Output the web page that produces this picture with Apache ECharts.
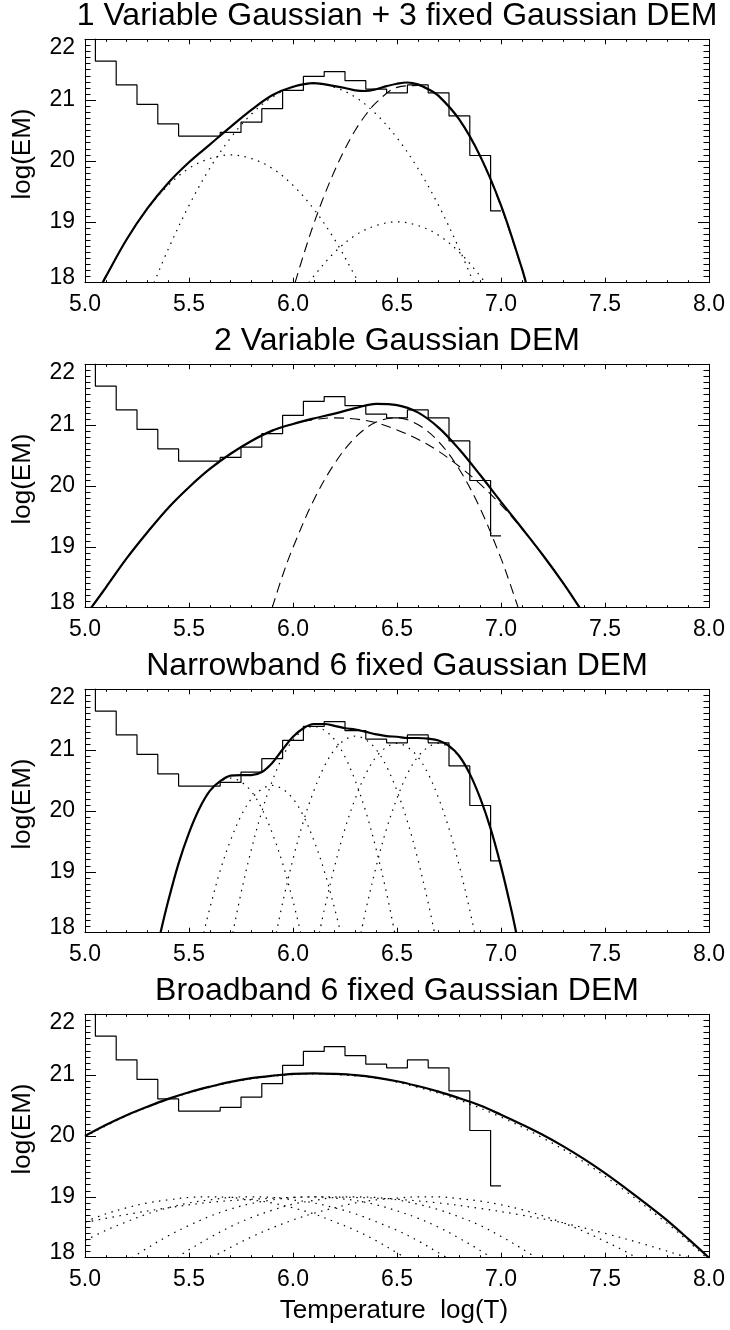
<!DOCTYPE html>
<html>
<head>
<meta charset="utf-8">
<script src="https://cdn.jsdelivr.net/npm/echarts@6/dist/echarts.min.js"></script>
<style>
html,body{margin:0;padding:0;background:#ffffff;}
#chart{width:730px;height:1330px;}
</style>
</head>
<body>
<div id="chart"></div>
<script>
// ---------------- DATA ----------------
const PANEL_TITLES = [
  "1 Variable Gaussian + 3 fixed Gaussian DEM",
  "2 Variable Gaussian DEM",
  "Narrowband 6 fixed Gaussian DEM",
  "Broadband 6 fixed Gaussian DEM"
];
const Y_NAME = "log(EM)";
const X_NAME = "Temperature  log(T)";
const X_TICKS = [5.0, 5.5, 6.0, 6.5, 7.0, 7.5, 8.0];
const Y_TICKS = [18, 19, 20, 21, 22];

// observed EM loci histogram (same in all panels)
const TEMP_BINS   = [5.0,5.1,5.2,5.3,5.4,5.5,5.6,5.7,5.8,5.9,6.0,6.1,6.2,6.3,6.4,6.5,6.6,6.7,6.8,6.9,7.0];
const EM_OBSERVED = [22.5,21.64,21.25,20.93,20.61,20.41,20.41,20.47,20.64,20.86,21.16,21.39,21.47,21.32,21.18,21.12,21.25,21.12,20.74,20.09,19.18];

// Panel 1
const p1Total = [[5.085,18.0],[5.1,18.10],[5.2,18.71],[5.3,19.22],[5.4,19.64],[5.5,19.98],[5.6,20.27],[5.7,20.56],[5.8,20.84],[5.9,21.08],[6.0,21.22],[6.1,21.28],[6.2,21.23],[6.25,21.20],[6.3,21.16],[6.35,21.15],[6.4,21.18],[6.45,21.23],[6.5,21.27],[6.55,21.29],[6.6,21.26],[6.65,21.18],[6.7,21.07],[6.8,20.68],[6.9,20.08],[7.0,19.27],[7.1,18.24],[7.12,18.0]];
const p1FixedA = [[5.085,18.0],[5.1,18.10],[5.2,18.71],[5.3,19.21],[5.4,19.60],[5.5,19.88],[5.6,20.04],[5.7,20.10],[5.8,20.04],[5.9,19.88],[6.0,19.60],[6.1,19.21],[6.2,18.71],[6.3,18.10],[6.315,18.0]];
const p1FixedB = [[5.332,18.0],[5.4,18.55],[5.5,19.27],[5.6,19.88],[5.7,20.38],[5.8,20.77],[5.9,21.05],[6.0,21.21],[6.1,21.27],[6.2,21.21],[6.3,21.05],[6.4,20.77],[6.5,20.38],[6.6,19.88],[6.7,19.27],[6.8,18.55],[6.868,18.0]];
const p1FixedC = [[6.076,18.0],[6.1,18.11],[6.2,18.50],[6.3,18.78],[6.4,18.94],[6.5,19.0],[6.6,18.94],[6.7,18.78],[6.8,18.50],[6.9,18.11],[6.924,18.0]];
const p1Variable = [[6.01,18.0],[6.05,18.45],[6.1,18.97],[6.15,19.43],[6.2,19.84],[6.25,20.20],[6.3,20.51],[6.35,20.76],[6.4,20.96],[6.5,21.21],[6.6,21.24],[6.7,21.06],[6.8,20.67],[6.9,20.07],[7.0,19.25],[7.1,18.23],[7.12,18.0]];

// Panel 2
const p2Total = [[5.03,18.0],[5.1,18.33],[5.2,18.81],[5.3,19.24],[5.4,19.64],[5.5,19.98],[5.6,20.28],[5.7,20.53],[5.8,20.74],[5.9,20.91],[6.0,21.02],[6.1,21.11],[6.2,21.19],[6.3,21.28],[6.4,21.35],[6.5,21.33],[6.6,21.21],[6.7,20.96],[6.8,20.60],[6.9,20.18],[7.0,19.74],[7.1,19.31],[7.2,18.87],[7.3,18.40],[7.378,18.0]];
const p2VarBroad = [[5.03,18.0],[5.1,18.33],[5.2,18.81],[5.3,19.24],[5.4,19.64],[5.5,19.98],[5.6,20.28],[5.7,20.53],[5.8,20.74],[5.9,20.91],[6.0,21.02],[6.1,21.09],[6.2,21.12],[6.3,21.10],[6.4,21.04],[6.5,20.92],[6.6,20.77],[6.7,20.57],[6.8,20.32],[6.9,20.03],[7.0,19.69],[7.1,19.30],[7.2,18.87],[7.3,18.40],[7.378,18.0]];
const p2VarNarrow = [[5.90,18.0],[5.95,18.53],[6.0,18.99],[6.1,19.77],[6.2,20.37],[6.3,20.80],[6.4,21.05],[6.5,21.12],[6.6,21.01],[6.7,20.73],[6.8,20.27],[6.9,19.63],[7.0,18.81],[7.05,18.33],[7.0825,18.0]];

// Panel 3
const p3Total = [[5.363,18.0],[5.4,18.52],[5.45,19.14],[5.5,19.64],[5.55,20.04],[5.6,20.33],[5.65,20.49],[5.7,20.58],[5.75,20.59],[5.8,20.59],[5.85,20.64],[5.9,20.79],[5.95,21.01],[6.0,21.22],[6.05,21.36],[6.1,21.43],[6.15,21.43],[6.2,21.40],[6.25,21.36],[6.3,21.34],[6.35,21.30],[6.4,21.26],[6.45,21.23],[6.5,21.22],[6.55,21.20],[6.6,21.20],[6.65,21.19],[6.7,21.16],[6.75,21.07],[6.8,20.90],[6.85,20.61],[6.9,20.21],[6.95,19.71],[7.0,19.09],[7.05,18.37],[7.073,18.0]];
const p3G1 = [[5.363,18.0],[5.4,18.52],[5.45,19.14],[5.5,19.64],[5.55,20.04],[5.6,20.32],[5.65,20.48],[5.7,20.54],[5.75,20.48],[5.8,20.32],[5.85,20.04],[5.9,19.64],[5.95,19.14],[6.0,18.52],[6.037,18.0]];
const p3G2 = [[5.571,18.0],[5.6,18.40],[5.65,19.02],[5.7,19.52],[5.75,19.92],[5.8,20.20],[5.85,20.36],[5.9,20.42],[5.95,20.36],[6.0,20.20],[6.05,19.92],[6.1,19.52],[6.15,19.02],[6.2,18.40],[6.229,18.0]];
const p3G3 = [[5.711,18.0],[5.75,18.65],[5.8,19.37],[5.85,19.99],[5.9,20.49],[5.95,20.89],[6.0,21.17],[6.05,21.33],[6.1,21.39],[6.15,21.33],[6.2,21.17],[6.25,20.89],[6.3,20.49],[6.35,19.99],[6.4,19.37],[6.45,18.65],[6.489,18.0]];
const p3G4 = [[5.920,18.0],[5.95,18.49],[6.0,19.21],[6.05,19.83],[6.1,20.33],[6.15,20.73],[6.2,21.01],[6.25,21.17],[6.3,21.23],[6.35,21.17],[6.4,21.01],[6.45,20.73],[6.5,20.33],[6.55,19.83],[6.6,19.21],[6.65,18.49],[6.680,18.0]];
const p3G5 = [[6.127,18.0],[6.15,18.37],[6.2,19.09],[6.25,19.71],[6.3,20.21],[6.35,20.61],[6.4,20.89],[6.45,21.05],[6.5,21.11],[6.55,21.05],[6.6,20.89],[6.65,20.61],[6.7,20.21],[6.75,19.71],[6.8,19.09],[6.85,18.37],[6.873,18.0]];
const p3G6 = [[6.327,18.0],[6.35,18.37],[6.4,19.09],[6.45,19.71],[6.5,20.21],[6.55,20.61],[6.6,20.89],[6.65,21.05],[6.7,21.11],[6.75,21.05],[6.8,20.89],[6.85,20.61],[6.9,20.21],[6.95,19.71],[7.0,19.09],[7.05,18.37],[7.073,18.0]];

// Panel 4
const p4Total = [[5.0,20.00],[5.1,20.18],[5.2,20.34],[5.3,20.48],[5.4,20.61],[5.5,20.72],[5.6,20.81],[5.7,20.89],[5.8,20.95],[5.9,20.99],[6.0,21.02],[6.1,21.03],[6.2,21.02],[6.3,21.00],[6.4,20.96],[6.5,20.90],[6.6,20.82],[6.7,20.73],[6.8,20.62],[6.9,20.50],[7.0,20.35],[7.1,20.19],[7.2,20.02],[7.3,19.83],[7.4,19.62],[7.5,19.39],[7.6,19.14],[7.7,18.88],[7.8,18.61],[7.9,18.31],[8.0,18.00]];
const p4Fit = [[5.0,19.99],[5.2,20.33],[5.4,20.60],[5.6,20.80],[5.8,20.94],[6.0,21.01],[6.1,21.02],[6.2,21.01],[6.4,20.95],[6.6,20.80],[6.8,20.59],[7.0,20.31],[7.2,19.97],[7.4,19.57],[7.6,19.09],[7.8,18.56],[7.9,18.27],[8.0,17.96]];
const p4G1 = [[5.0,18.59],[5.1,18.72],[5.2,18.82],[5.3,18.90],[5.4,18.95],[5.5,18.99],[5.6,19.0],[5.7,18.99],[5.8,18.95],[5.9,18.90],[6.0,18.82],[6.1,18.72],[6.2,18.59],[6.3,18.45],[6.4,18.28],[6.5,18.08],[6.54,18.0]];
const p4G2 = [[5.0,18.28],[5.1,18.45],[5.2,18.59],[5.3,18.72],[5.4,18.82],[5.5,18.90],[5.6,18.95],[5.7,18.99],[5.8,19.0],[5.9,18.99],[6.0,18.95],[6.1,18.90],[6.2,18.82],[6.3,18.72],[6.4,18.59],[6.5,18.45],[6.6,18.28],[6.7,18.08],[6.74,18.0]];
const p4G3 = [[5.226,18.0],[5.3,18.16],[5.4,18.36],[5.5,18.53],[5.6,18.68],[5.7,18.80],[5.8,18.89],[5.9,18.95],[6.0,18.99],[6.1,19.0],[6.2,18.98],[6.3,18.94],[6.4,18.87],[6.5,18.77],[6.6,18.65],[6.7,18.50],[6.8,18.32],[6.9,18.12],[6.954,18.0]];
const p4G4 = [[5.441,18.0],[5.5,18.13],[5.6,18.33],[5.7,18.51],[5.8,18.66],[5.9,18.78],[6.0,18.88],[6.1,18.94],[6.2,18.99],[6.3,19.0],[6.4,18.99],[6.5,18.95],[6.6,18.88],[6.7,18.79],[6.8,18.67],[6.9,18.53],[7.0,18.35],[7.1,18.15],[7.169,18.0]];
const p4G5 = [[5.609,18.0],[5.7,18.17],[5.8,18.34],[5.9,18.49],[6.0,18.62],[6.1,18.73],[6.2,18.82],[6.3,18.90],[6.4,18.95],[6.5,18.98],[6.6,19.0],[6.7,19.0],[6.8,18.97],[6.9,18.93],[7.0,18.87],[7.1,18.79],[7.2,18.69],[7.3,18.57],[7.4,18.43],[7.5,18.27],[7.6,18.10],[7.651,18.0]];
const p4G6 = [[5.0,18.58],[5.2,18.71],[5.4,18.82],[5.6,18.91],[5.8,18.96],[6.0,18.99],[6.14,19.0],[6.3,18.99],[6.5,18.96],[6.7,18.90],[6.9,18.81],[7.1,18.70],[7.3,18.57],[7.5,18.40],[7.7,18.21],[7.9,18.00]];

// ---------------- LAYOUT / STYLE ----------------
const FONT = "'Liberation Sans', Arial, Helvetica, sans-serif";
const GRID_LEFT = 85, GRID_WIDTH = 624, GRID_HEIGHT = 243.4;
const GRID_TOPS = [39.3, 364.3, 689.3, 1014.3];

const solidStyle  = {color:'#000', width:2.2, type:'solid'};
const histStyle   = {color:'#000', width:1.2, type:'solid'};
const dottedStyle = {color:'#000', width:1.2, type:[1.5, 5.5]};
const dashedStyle = {color:'#000', width:1.1, type:[10, 6]};

const chart = echarts.init(document.getElementById('chart'), null, {renderer:'canvas'});

const grids = [], xAxes = [], yAxes = [], series = [], graphics = [];

const histData = TEMP_BINS.map((t, i) => [t, EM_OBSERVED[i]]);

function xAxisCfg(g, pos) {
  return {
    type:'value', gridIndex:g, position:pos, min:X_TICKS[0], max:X_TICKS[X_TICKS.length-1], interval:0.5,
    axisLine:{show:true, onZero:false, lineStyle:{color:'#000', width:1}},
    axisTick:{show:true, inside:true, length:5, lineStyle:{color:'#000', width:1}},
    minorTick:{show:true, splitNumber:5, length:2.5, lineStyle:{color:'#000', width:1}},
    splitLine:{show:false}, minorSplitLine:{show:false},
    axisLabel:{show:pos==='bottom', margin:10, color:'#000', fontSize:23, fontFamily:FONT,
      showMinLabel:true, showMaxLabel:true,
      formatter:function(v){ return Number(v).toFixed(1); }}
  };
}
function yAxisCfg(g, pos) {
  return {
    type:'value', gridIndex:g, position:pos, min:Y_TICKS[0], max:Y_TICKS[Y_TICKS.length-1], interval:1,
    axisLine:{show:true, onZero:false, lineStyle:{color:'#000', width:1}},
    axisTick:{show:true, inside:true, length:11, lineStyle:{color:'#000', width:1}},
    minorTick:{show:true, splitNumber:10, length:5.5, lineStyle:{color:'#000', width:1}},
    splitLine:{show:false}, minorSplitLine:{show:false},
    axisLabel:{show:pos==='left', margin:10, color:'#000', fontSize:23, fontFamily:FONT,
      showMinLabel:true, showMaxLabel:true,
      formatter:function(v){
        if (v === 22) return '{hi|22}';
        if (v === 18) return '{lo|18}';
        return String(v);
      },
      rich:{
        hi:{padding:[16,0,0,0], fontSize:23, fontFamily:FONT, color:'#000'},
        lo:{padding:[0,0,10,0], fontSize:23, fontFamily:FONT, color:'#000'}
      }}
  };
}
function addLine(g, data, style, opts) {
  const s = Object.assign({
    type:'line', xAxisIndex:2*g, yAxisIndex:2*g, data:data,
    symbol:'none', showSymbol:false, smooth:0.35, clip:true, silent:true,
    lineStyle:style, animation:false, z:2
  }, opts || {});
  series.push(s);
}

const panelComponents = [
  [[p1FixedA,dottedStyle],[p1FixedB,dottedStyle],[p1FixedC,dottedStyle],[p1Variable,dashedStyle]],
  [[p2VarBroad,dashedStyle],[p2VarNarrow,dashedStyle]],
  [[p3G1,dottedStyle],[p3G2,dottedStyle],[p3G3,dottedStyle],[p3G4,dottedStyle],[p3G5,dottedStyle],[p3G6,dottedStyle]],
  [[p4G1,dottedStyle],[p4G2,dottedStyle],[p4G3,dottedStyle],[p4G4,dottedStyle],[p4G5,dottedStyle],[p4G6,dottedStyle],[p4Fit,dottedStyle]]
];
const panelTotals = [p1Total, p2Total, p3Total, p4Total];

for (let g = 0; g < 4; g++) {
  grids.push({left:GRID_LEFT, top:GRID_TOPS[g], width:GRID_WIDTH, height:GRID_HEIGHT, containLabel:false, outerBoundsMode:'none', show:false});
  xAxes.push(xAxisCfg(g, 'bottom'));
  xAxes.push(xAxisCfg(g, 'top'));
  yAxes.push(yAxisCfg(g, 'left'));
  yAxes.push(yAxisCfg(g, 'right'));

  panelComponents[g].forEach(function(c){ addLine(g, c[0], c[1]); });
  addLine(g, histData, histStyle, {smooth:false, step:'middle', z:3});
  addLine(g, panelTotals[g], solidStyle, {z:4});

  graphics.push({
    type:'text', x:GRID_LEFT + GRID_WIDTH/2, y:GRID_TOPS[g] - 22.7, silent:true,
    style:{text:PANEL_TITLES[g], fontSize:32, fontFamily:FONT, fill:'#000',
      align:'center', verticalAlign:'middle', textAlign:'center', textVerticalAlign:'middle'}
  });
  graphics.push({
    type:'text', x:22.5, y:GRID_TOPS[g] + GRID_HEIGHT/2 - 7, rotation:Math.PI/2, silent:true,
    style:{text:Y_NAME, fontSize:26, fontFamily:FONT, fill:'#000',
      align:'center', verticalAlign:'middle', textAlign:'center', textVerticalAlign:'middle'}
  });
}
graphics.push({
  type:'text', x:394, y:1311, silent:true,
  style:{text:X_NAME, fontSize:26, fontFamily:FONT, fill:'#000',
    align:'center', verticalAlign:'middle', textAlign:'center', textVerticalAlign:'middle'}
});

chart.setOption({
  backgroundColor:'#ffffff',
  animation:false,
  grid:grids,
  xAxis:xAxes,
  yAxis:yAxes,
  series:series,
  graphic:{elements:graphics}
});
</script>
</body>
</html>
